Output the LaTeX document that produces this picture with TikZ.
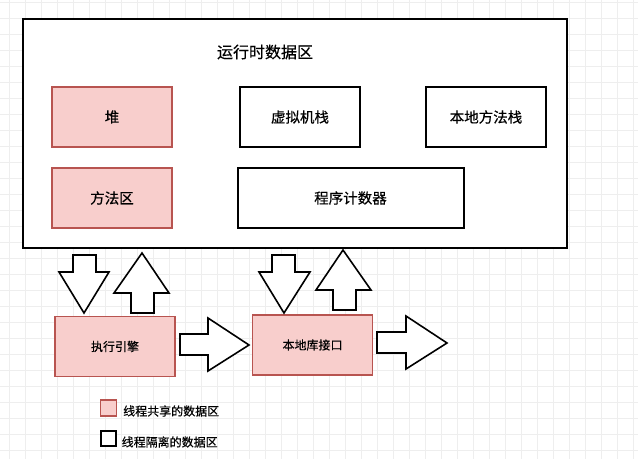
\documentclass[tikz,border=0pt]{standalone}
\usepackage{fontspec}
\setmainfont{Noto Sans CJK SC}[FakeBold=0.4]
\usetikzlibrary{arrows.meta}
\definecolor{sharedfill}{HTML}{F8CECC}
\definecolor{sharedline}{HTML}{B85450}
\definecolor{gridline}{HTML}{EEEEEE}
\tikzset{
  shared/.style={draw=sharedline, fill=sharedfill, line width=1.5pt, minimum width=120pt, minimum height=60pt, font=\fontsize{14.5}{16}\selectfont},
  isolated/.style={draw=black, fill=white, line width=2pt, minimum width=120pt, minimum height=60pt, font=\fontsize{14.5}{16}\selectfont},
  blockarrow/.style={draw=black, fill=white, line width=1.6pt, line join=miter}
}

\begin{document}
\begin{tikzpicture}[x=1pt,y=-1pt]
		\useasboundingbox (0,0) rectangle (638,459);
		% background grid
		\foreach \x in {9,25,...,633}
		\draw[gridline, line width=0.8pt](\x,0)--(\x,459);
		\foreach \y in {2.5,18.5,...,458}
		\draw[gridline, line width=0.8pt](0,\y)--(638,\y);
		% runtime data area
		\node[draw=black, fill=white, line width=2pt, minimum width=544.5pt, minimum height=229pt, inner sep=0pt] (runtime) at (294.75,133.75) {};
		\node[font=\fontsize{16}{18}\selectfont] (title) at (265,52) {运行时数据区};
		\node[shared] (heap) at (112,117) {堆};
		\node[shared] (method) at (112,198) {方法区};
		\node[isolated] (vmstack) at (300,117) {虚拟机栈};
		\node[isolated] (nativestack) at (486,117) {本地方法栈};
		\node[isolated, minimum width=226pt] (pc) at (350.5,198) {程序计数器};
		% engine and native interface
		\node[shared, font=\fontsize{12}{14}\selectfont] (engine) at (115,346.5) {执行引擎};
		\node[shared, font=\fontsize{12}{14}\selectfont] (nativelib) at (312.5,345) {本地库接口};
		% block arrows
		\draw[blockarrow](73,255)--(96,255)--(96,272)--(109,272)--(84,313)--(59,272)--(73,272)--cycle;
		\draw[blockarrow](131,313)--(154,313)--(154,293)--(169,293)--(142,253)--(114,293)--(131,293)--cycle;
		\draw[blockarrow](272,255)--(295,255)--(295,272)--(310,272)--(284,313)--(259,272)--(272,272)--cycle;
		\draw[blockarrow](333,310)--(356,310)--(356,290)--(371,290)--(343,250)--(316,290)--(333,290)--cycle;
		\draw[blockarrow](180,334)--(208,334)--(208,318)--(249,345)--(208,371)--(208,355)--(180,355)--cycle;
		\draw[blockarrow](377,332)--(406,332)--(406,316)--(447,343)--(406,369)--(406,353)--(377,353)--cycle;
		% legend
		\node[shared, minimum width=16pt, minimum height=16pt, inner sep=0pt] (keyshared) at (108.5,408) {};
		\node[anchor=west, font=\fontsize{12}{14}\selectfont, inner sep=0pt] (keysharedtext) at (123,411) {线程共享的数据区};
		\node[isolated, minimum width=15pt, minimum height=15pt, inner sep=0pt] (keyisolated) at (108.5,438.5) {};
		\node[anchor=west, font=\fontsize{12}{14}\selectfont, inner sep=0pt] (keyisolatedtext) at (121.5,442) {线程隔离的数据区};
	\end{tikzpicture}
\end{document}
